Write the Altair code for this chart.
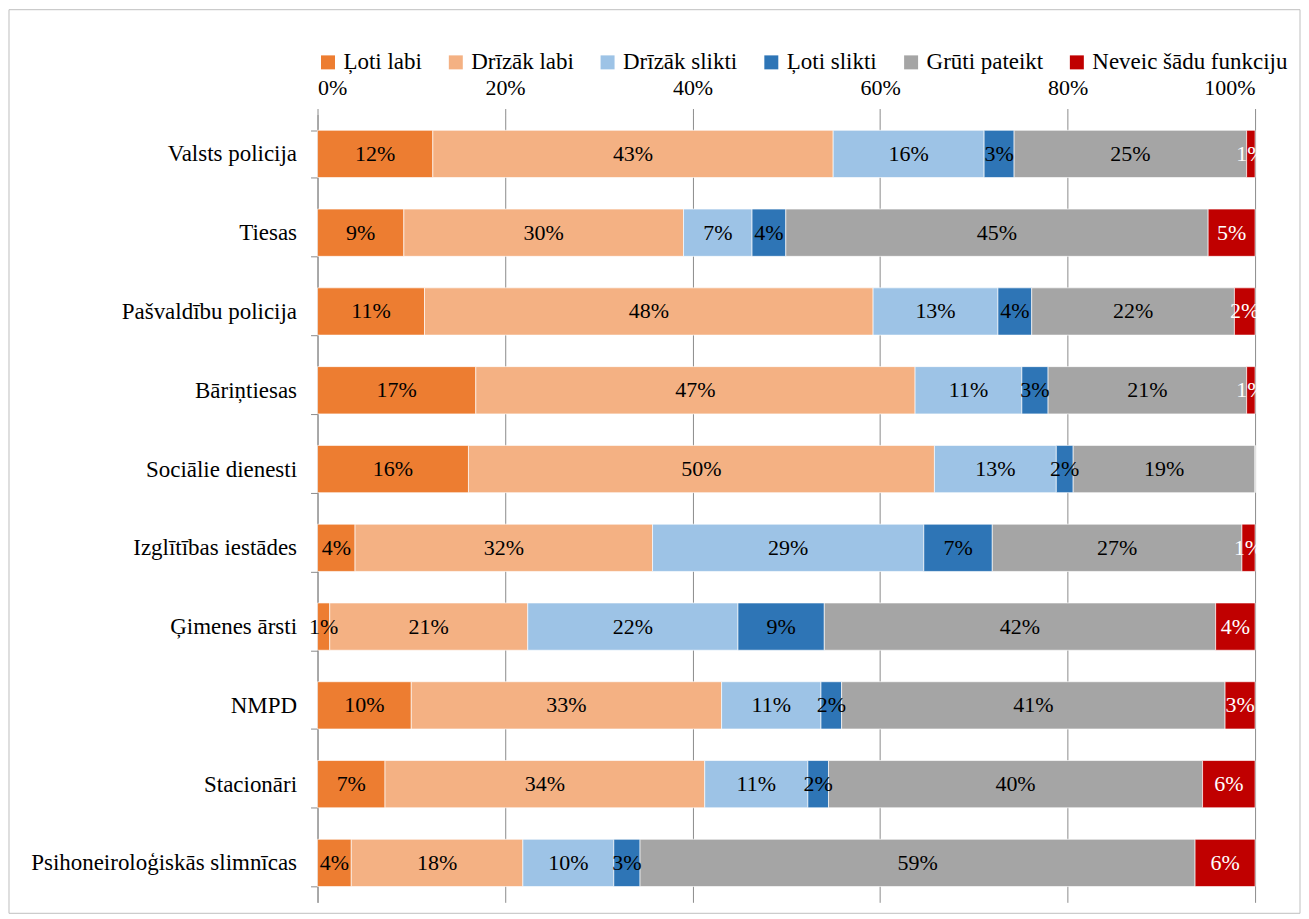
import altair as alt
import pandas as pd

institutions = ["Valsts policija", "Tiesas", "Pašvaldību policija", "Bāriņtiesas",
                "Sociālie dienesti", "Izglītības iestādes", "Ģimenes ārsti", "NMPD",
                "Stacionāri", "Psihoneiroloģiskās slimnīcas"]
series = ["Ļoti labi", "Drīzāk labi", "Drīzāk slikti", "Ļoti slikti",
          "Grūti pateikt", "Neveic šādu funkciju"]
colors = ["#ED7D31", "#F4B183", "#9DC3E6", "#2E75B6", "#A5A5A5", "#C00000"]

loti_labi = [12.3, 9.2, 11.4, 16.9, 16.1, 4.0, 1.3, 10.0, 7.2, 3.6]
drizak_labi = [42.7, 29.8, 47.8, 46.9, 49.7, 31.7, 21.1, 33.1, 34.1, 18.3]
drizak_slikti = [16.1, 7.3, 13.3, 11.4, 13.0, 28.9, 22.4, 10.6, 11.0, 9.7]
loti_slikti = [3.2, 3.6, 3.6, 2.8, 1.8, 7.3, 9.2, 2.2, 2.2, 2.8]
gruti_pateikt = [24.8, 45.0, 21.6, 21.2, 19.4, 26.6, 41.7, 40.9, 39.9, 59.2]
neveic = [0.9, 5.0, 2.2, 0.9, 0.0, 1.4, 4.2, 3.2, 5.6, 6.4]

x_ticks = [0, 0.2, 0.4, 0.6, 0.8, 1.0]

all_values = [loti_labi, drizak_labi, drizak_slikti, loti_slikti, gruti_pateikt, neveic]
rows = []
for si, (s, vals) in enumerate(zip(series, all_values)):
    for inst, v in zip(institutions, vals):
        rows.append({"inst": inst, "series": s, "order": si, "value": v})
df = pd.DataFrame(rows)

FONT = "Liberation Serif"

base = (
    alt.Chart(df)
    .transform_joinaggregate(total="sum(value)", groupby=["inst"])
    .transform_calculate(pct="datum.value / datum.total")
    .transform_stack(stack="pct", groupby=["inst"], as_=["x0", "x1"],
                     sort=[alt.SortField("order", order="ascending")])
    .transform_calculate(mid="(datum.x0 + datum.x1) / 2",
                         label="format(datum.value / 100, '.0%')")
)

y_enc = alt.Y("inst:N", sort=institutions,
              scale=alt.Scale(paddingInner=0.4, paddingOuter=0.2),
              axis=alt.Axis(title=None, labelFontSize=23, labelFont=FONT,
                            labelColor="black", domainColor="#8C8C8C",
                            tickColor="#8C8C8C", tickSize=7, tickBand="extent",
                            labelPadding=14, labelLimit=0, grid=False))

bars = base.mark_bar(stroke="white", strokeWidth=0.8, strokeOpacity=0.8).encode(
    x=alt.X("x0:Q", scale=alt.Scale(domain=[0, 1], nice=False),
            axis=alt.Axis(orient="top", format="%", values=x_ticks, title=None,
                          grid=True, gridColor="#8C8C8C", gridWidth=1,
                          domain=False, tickColor="#8C8C8C", tickSize=6,
                          labelFontSize=22, labelFont=FONT, labelColor="black",
                          labelPadding=9)),
    x2="x1:Q",
    y=y_enc,
    color=alt.Color("series:N", sort=series,
                    scale=alt.Scale(domain=series, range=colors),
                    legend=alt.Legend(title=None, orient="none", legendX=-1, legendY=-64,
                                      direction="horizontal", symbolType="square",
                                      symbolSize=196, symbolStrokeWidth=0,
                                      labelFontSize=23, labelFont=FONT, labelLimit=0,
                                      labelColor="black", columnPadding=22,
                                      labelOffset=4)),
    order=alt.Order("order:Q"),
)

texts = base.transform_filter("datum.value > 0").mark_text(
    fontSize=22, font=FONT, align="center", baseline="middle"
).encode(
    x="mid:Q",
    y=alt.Y("inst:N", sort=institutions),
    text="label:N",
    color=alt.condition("datum.series === 'Neveic šādu funkciju'",
                        alt.value("white"), alt.value("black")),
)

frame = alt.Chart(pd.DataFrame({"a": [0]})).mark_rect(
    fill=None, stroke="#BFBFBF", strokeWidth=1
).encode(
    x=alt.value(-309), x2=alt.value(984), y=alt.value(-105), y2=alt.value(800)
)

chart = (
    alt.layer(frame, bars, texts)
    .properties(width=939, height=789, padding=0)
    .configure(font=FONT)
    .configure_view(stroke=None)
)

chart.save("out.html", embed_options={"renderer": "svg", "actions": False})
